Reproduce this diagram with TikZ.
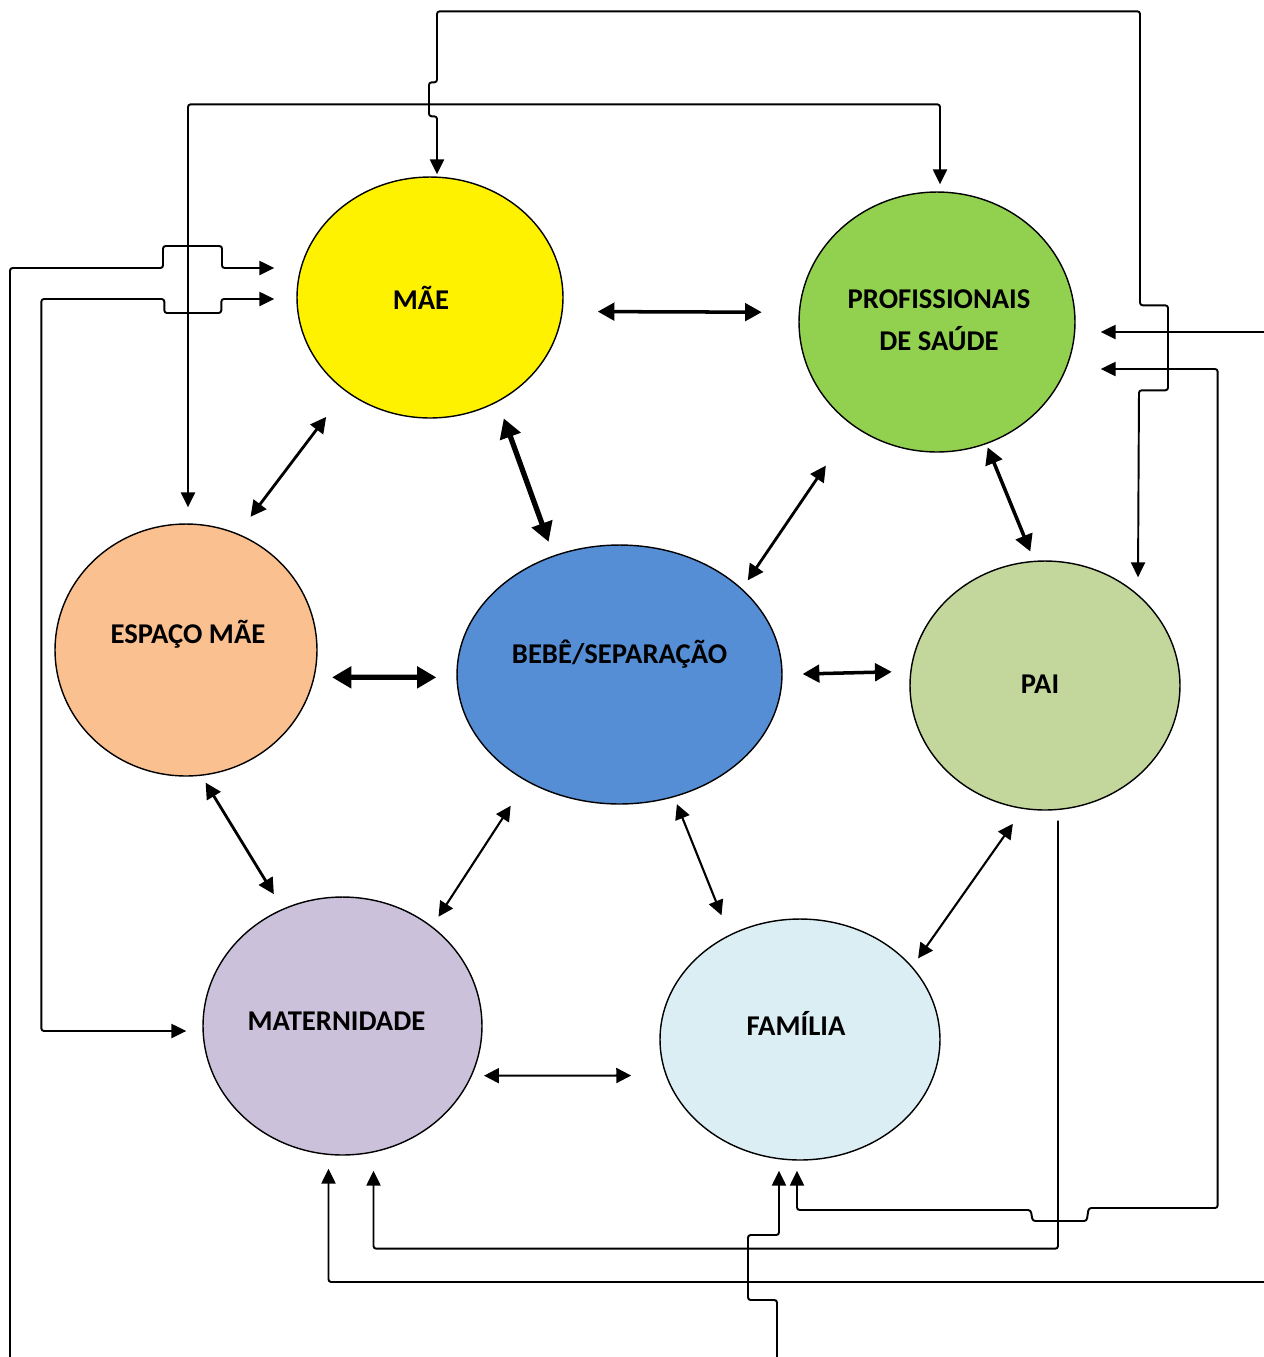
\documentclass[tikz,border=0pt]{standalone}
\usepackage{fontspec}
\setmainfont{Carlito}
\usetikzlibrary{shapes.geometric, arrows.meta}
\tikzstyle{bubble} = [ellipse, draw=black, line width=0.8pt, inner sep=0pt]
\tikzstyle{bubbletext} = [font=\fontsize{16.3}{24}\selectfont\bfseries, align=center]
\tikzstyle{line} = [line width=1.1pt, rounded corners=1.5pt]
\tikzstyle{into} = [line, -{Triangle[length=8.5pt,width=8pt]}]
\tikzstyle{both} = [line, {Triangle[length=8.5pt,width=8pt]}-{Triangle[length=8.5pt,width=8pt]}]
\tikzstyle{heavy} = [line width=3pt, {Triangle[length=11pt,width=12pt]}-{Triangle[length=11pt,width=12pt]}]
\tikzstyle{medium} = [line width=2pt, {Triangle[length=9.5pt,width=10pt]}-{Triangle[length=9.5pt,width=10pt]}]
\tikzstyle{mid} = [line width=1.6pt, {Triangle[length=9pt,width=9pt]}-{Triangle[length=9pt,width=9pt]}]
\tikzstyle{light} = [line width=1.2pt, {Triangle[length=8.5pt,width=8.5pt]}-{Triangle[length=8.5pt,width=8.5pt]}]
\begin{document}
\begin{tikzpicture}[x=0.02cm, y=-0.02cm]
\useasboundingbox (0,0) rectangle (1264,1357);

\node (mae) [bubble, fill=yellow, minimum width=5.32cm, minimum height=4.82cm,
  label={[bubbletext, shift={(-9,0)}]center:MÃE}] at (430,297.5) {};
\node (prof) [bubble, fill={rgb,255:red,146;green,208;blue,80}, minimum width=5.52cm, minimum height=5.2cm,
  label={[bubbletext, shift={(2,-2)}]center:PROFISSIONAIS\\DE SAÚDE}] at (937,322) {};
\node (esp) [bubble, fill={rgb,255:red,250;green,192;blue,144}, minimum width=5.24cm, minimum height=5.04cm,
  label={[bubbletext, shift={(2,-16)}]center:ESPAÇO MÃE}] at (186,650) {};
\node (bebe) [bubble, fill={rgb,255:red,85;green,142;blue,213}, minimum width=6.5cm, minimum height=5.18cm,
  label={[bubbletext, shift={(0,-20)}]center:BEBÊ/SEPARAÇÃO}] at (619.5,674.5) {};
\node (pai) [bubble, fill={rgb,255:red,195;green,214;blue,155}, minimum width=5.4cm, minimum height=4.98cm,
  label={[bubbletext, shift={(-5,-1)}]center:PAI}] at (1045,685.5) {};
\node (mat) [bubble, fill={rgb,255:red,204;green,193;blue,218}, minimum width=5.58cm, minimum height=5.16cm,
  label={[bubbletext, shift={(-6,-5)}]center:MATERNIDADE}] at (342.5,1026) {};
\node (fam) [bubble, fill={rgb,255:red,219;green,238;blue,244}, minimum width=5.6cm, minimum height=4.82cm,
  label={[bubbletext, shift={(-4,-16)}]center:FAMÍLIA}] at (800,1039.5) {};

% loose ends at the border
\coordinate (edgeSW) at (10,1357);
\coordinate (edgeE1) at (1264,332);
\coordinate (edgeE2) at (1264,1282);
\coordinate (edgeS) at (777,1357);

% arrows between the circles
\draw [medium, shorten <=0.70cm, shorten >=0.74cm] (mae.-6.7) -- (prof.176.3);
\draw [heavy, shorten <=0.35cm, shorten >=0.29cm] (mae.-57.1) -- (bebe.119.9);
\draw [mid, shorten <=0.64cm, shorten >=0.42cm] (mae.228.5) -- (esp.66.7);
\draw [heavy, shorten <=0.35cm, shorten >=0.40cm] (esp.-12.8) -- (bebe.181.6);
\draw [mid, shorten <=0.20cm, shorten >=0.96cm] (bebe.35.2) -- (prof.231);
\draw [medium, shorten <=0.40cm, shorten >=0.37cm] (bebe.0.5) -- (pai.174.7);
\draw [medium, shorten <=0.07cm, shorten >=0.20cm] (prof.-68.2) -- (pai.95.6);
\draw [mid, shorten <=0.16cm, shorten >=0.34cm] (esp.-83.2) -- (mat.117.5);
\draw [light, shorten <=0.58cm, shorten >=0.23cm] (bebe.229.6) -- (mat.48.1);
\draw [light, shorten <=0.15cm, shorten >=0.42cm] (bebe.-66.7) -- (fam.124.3);
\draw [light, shorten <=0.36cm, shorten >=0.20cm] (pai.260) -- (fam.33.4);
\draw [light, shorten <=0.24cm, shorten >=0.69cm] (mat.-21.2) -- (fam.195.3);

% long connectors round the outside
\draw [both] ([shift={(7,-2)}]mae.north) -- ++(0,-58) -- ++(-8,0) -- ++(0,-34) -- ++(8,0) -- ++(0,-71)
  -- ++(703,0) -- ++(0,294) -- ++(28,0) -- ++(0,85) -- ++(-29,0) -- ([shift={(93,17)}]pai.north);
\draw [both] ([shift={(2,-16)}]esp.north) |- ([shift={(3,-87)}]prof.north) -- ([shift={(3,-7)}]prof.north);
\draw [into] (edgeSW) -- ++(0,-1089) -- ++(153,0) -- ++(0,-22) -- ++(59,0) -- ++(0,22)
  -- ([shift={(-22,-29.5)}]mae.west);
\draw [both] ([shift={(-22,1.5)}]mae.west) -- ++(-53,0) -- ++(0,14) -- ++(-57,0) -- ++(0,-14)
  -| ([shift={(-161,5)}]mat.west) -- ([shift={(-16,5)}]mat.west);
\draw [into] (edgeE1) -- ([shift={(25,10)}]prof.east);
\draw [both] ([shift={(25,47)}]prof.east) -- ++(117,0) -- ++(0,839) -- ++(-129,0) -- ++(-2,13)
  -- ++(-54,0) -- ++(-2,-11) -| ([shift={(-3,10)}]fam.south);
\draw [into] ([shift={(13,10)}]pai.south) |- ([shift={(31,93)}]mat.south) -- ([shift={(31,15)}]mat.south);
\draw [into] (edgeE2) -| ([shift={(-14,13)}]mat.south);
\draw [into] (edgeS) -- ++(0,-57) -- ++(-29,0) -- ++(0,-65) -| ([shift={(-21,10)}]fam.south);
\end{tikzpicture}
\end{document}
